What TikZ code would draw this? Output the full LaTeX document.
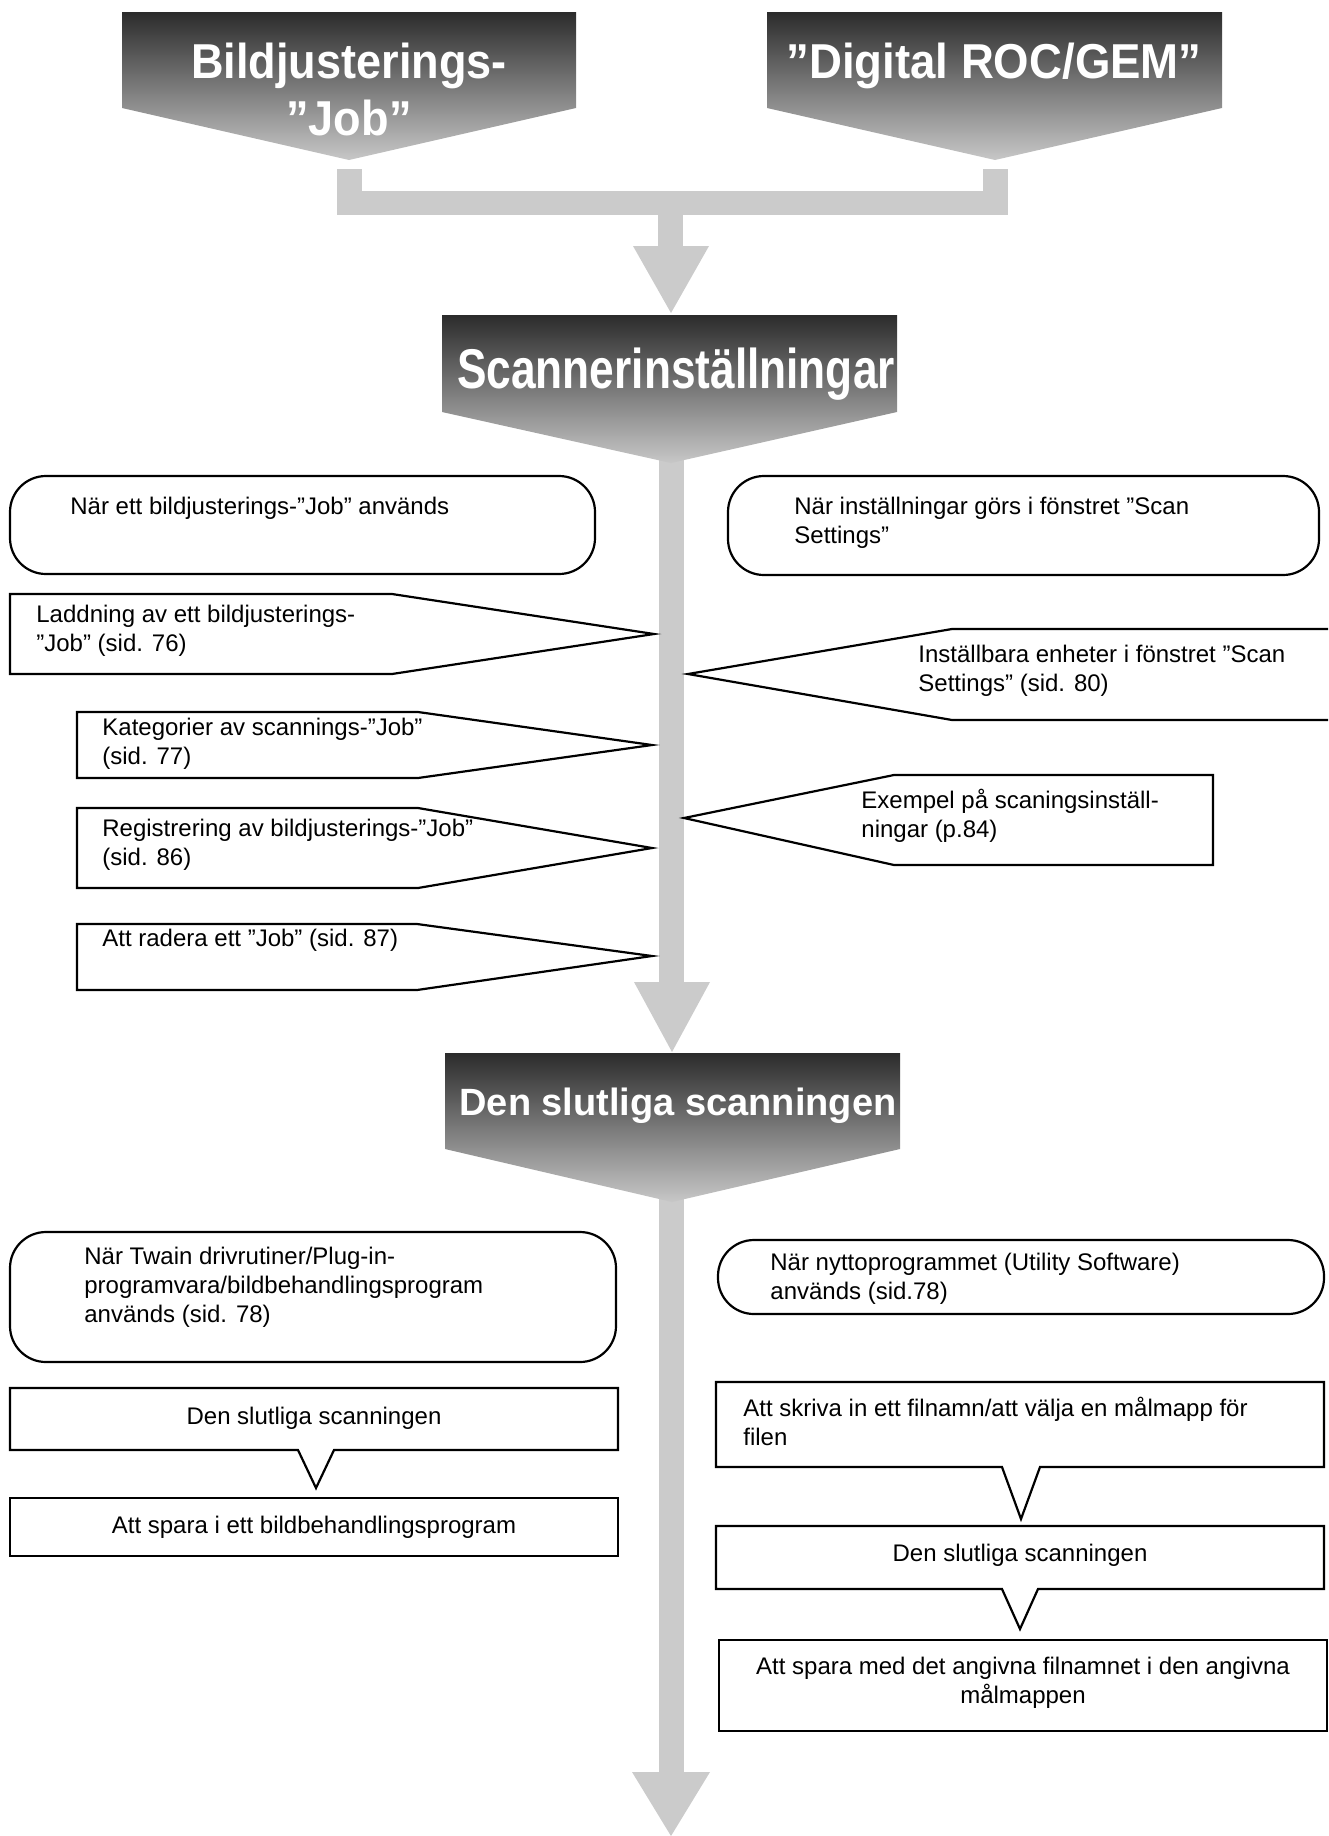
\documentclass[tikz,border=0pt]{standalone}
\usepackage{fontspec}
\setmainfont{Liberation Sans}
\usepackage{graphicx}
\definecolor{arrowgray}{HTML}{CBCBCB}
\newcommand{\Lft}[1]{\vtop{\lineskiplimit=-30pt\halign{##\hfil\cr#1\crcr}}}
\newcommand{\Ctr}[1]{\vtop{\lineskiplimit=-30pt\halign{\hfil##\hfil\cr#1\crcr}}}
\tikzset{
  gbar/.style={fill=arrowgray, draw=none},
  hdr/.style={top color=black!83, bottom color=black!22, draw=none},
  box/.style={draw=black, line width=1.1pt, fill=white, line join=miter},
  rbox/.style={box, rounded corners=18pt},
  txt/.style={inner sep=0pt, font=\fontsize{12}{14.5}\selectfont, text=black},
  htxt/.style={inner sep=0pt, text=white, font=\bfseries},
}
\begin{document}
\begin{tikzpicture}[x={(0.5pt,0pt)},y={(0pt,-0.5pt)}]
\useasboundingbox (0,0) rectangle (1328,1836);
\clip (0,0) rectangle (1328,1836);

% ---------- named points of the gray connectors ----------
\coordinate (tipA) at (349,160);
\coordinate (tipB) at (995,160);
\coordinate (tipS) at (671,463);
\coordinate (tipD) at (672,1202);
\coordinate (endF) at (671,1836);

% ---------- gray connectors ----------
\fill[gbar] ([xshift=-6.25pt]tipA |- 0,169) rectangle ([xshift=6.25pt]tipA |- 0,215);
\fill[gbar] ([xshift=-6.25pt]tipB |- 0,169) rectangle ([xshift=6.25pt]tipB |- 0,215);
\fill[gbar] ([xshift=-6.25pt]tipA |- 0,191) rectangle ([xshift=6.25pt]tipB |- 0,215);
\fill[gbar] (658,214) rectangle (683,247);
\fill[gbar] (633,246) -- (709,246) -- (671,313) -- cycle;

\fill[gbar] (659,455) rectangle (684,983);
\fill[gbar] (634,982) -- (710,982) -- (672,1052) -- cycle;

\fill[gbar] (659,1195) rectangle (684,1773);
\fill[gbar] (632,1772) -- (710,1772) -- (endF) -- cycle;

% ---------- dark headers ----------
\shade[hdr] (122,12) -- (576,12) -- (576,108) -- (tipA) -- (122,108) -- cycle;
\shade[hdr] (767,12) -- (1222,12) -- (1222,108) -- (tipB) -- (767,108) -- cycle;
\shade[hdr] (442,315) -- (897,315) -- (897,412) -- (tipS) -- (442,412) -- cycle;
\shade[hdr] (445,1053) -- (900,1053) -- (900,1149) -- (tipD) -- (445,1149) -- cycle;

\node[htxt, anchor=base] (hA1) at (349,78) {\scalebox{0.92}[1]{\fontsize{24.5}{28}\selectfont Bildjusterings-}};
\node[htxt, anchor=base] (hA2) at (349,135) {\scalebox{0.92}[1]{\fontsize{24.5}{28}\selectfont ”Job”}};
\node[htxt, anchor=base] (hB) at (994,78) {\scalebox{0.93}[1]{\fontsize{24.5}{28}\selectfont ”Digital ROC/GEM”}};
\node[htxt, anchor=base] (hS) at (676,388) {\scalebox{0.79}[1]{\fontsize{28}{30}\selectfont Scannerinställningar}};
\node[htxt, anchor=base] (hD) at (678,1115) {\fontsize{19}{22}\selectfont Den slutliga scanningen};

% ---------- upper section boxes ----------
\draw[rbox] (10,476) rectangle (595,574);
\node[txt, anchor=base west] (t1) at (70,514) {\Lft{När ett bildjusterings-”Job” används}};

\draw[rbox] (728,476) rectangle (1319,575);
\node[txt, anchor=base west] (t2) at (794,514) {\Lft{När inställningar görs i fönstret ”Scan\cr Settings”}};

\draw[box] (10,594) -- (392,594) -- (654,634) -- (392,674) -- (10,674) -- cycle;
\node[txt, anchor=base west] (t3) at (36,622) {\Lft{Laddning av ett bildjusterings-\cr ”Job” (sid. 76)}};

\draw[box] (77,712) -- (418,712) -- (652,745) -- (418,778) -- (77,778) -- cycle;
\node[txt, anchor=base west] (t4) at (102,735) {\Lft{Kategorier av scannings-”Job”\cr (sid. 77)}};

\draw[box] (77,808) -- (418,808) -- (652,848) -- (418,888) -- (77,888) -- cycle;
\node[txt, anchor=base west] (t5) at (102,836) {\Lft{Registrering av bildjusterings-”Job”\cr (sid. 86)}};

\draw[box] (77,924) -- (417,924) -- (652,956) -- (417,990) -- (77,990) -- cycle;
\node[txt, anchor=base west] (t6) at (102,946) {\Lft{Att radera ett ”Job” (sid. 87)}};

\draw[box] (1340,629) -- (952,629) -- (688,674) -- (952,720) -- (1340,720);
\node[txt, anchor=base west] (t7) at (918,662) {\Lft{Inställbara enheter i fönstret ”Scan\cr Settings” (sid. 80)}};

\draw[box] (684,818) -- (894,775) -- (1213,775) -- (1213,865) -- (894,865) -- cycle;
\node[txt, anchor=base west] (t8) at (861,808) {\Lft{Exempel på scaningsinställ-\cr ningar (p.84)}};

% ---------- lower section, left ----------
\draw[rbox] (10,1232) rectangle (616,1362);
\node[txt, anchor=base west] (t9) at (84,1264) {\Lft{När Twain drivrutiner/Plug-in-\cr programvara/bildbehandlingsprogram\cr används (sid. 78)}};

\draw[box] (10,1388) -- (618,1388) -- (618,1450) -- (334,1450) -- (316,1488) -- (298,1450) -- (10,1450) -- cycle;
\node[txt, anchor=base] (t10) at (314,1424) {Den slutliga scanningen};

\draw[box] (10,1498) rectangle (618,1556);
\node[txt, anchor=base] (t11) at (314,1533) {Att spara i ett bildbehandlingsprogram};

% ---------- lower section, right ----------
\draw[rbox] (718,1240) rectangle (1324,1314);
\node[txt, anchor=base west] (t12) at (770,1270) {\Lft{När nyttoprogrammet (Utility Software)\cr används (sid.78)}};

\draw[box] (716,1382) -- (1324,1382) -- (1324,1467) -- (1040,1467) -- (1021,1519) -- (1002,1467) -- (716,1467) -- cycle;
\node[txt, anchor=base west] (t13) at (743,1416) {\Lft{Att skriva in ett filnamn/att välja en målmapp för\cr filen}};

\draw[box] (716,1526) -- (1324,1526) -- (1324,1589) -- (1038,1589) -- (1020,1629) -- (1002,1589) -- (716,1589) -- cycle;
\node[txt, anchor=base] (t14) at (1020,1561) {Den slutliga scanningen};

\draw[box] (719,1640) rectangle (1327,1731);
\node[txt, anchor=base] (t15) at (1023,1674) {\Ctr{Att spara med det angivna filnamnet i den angivna\cr målmappen}};
\end{tikzpicture}
\end{document}
